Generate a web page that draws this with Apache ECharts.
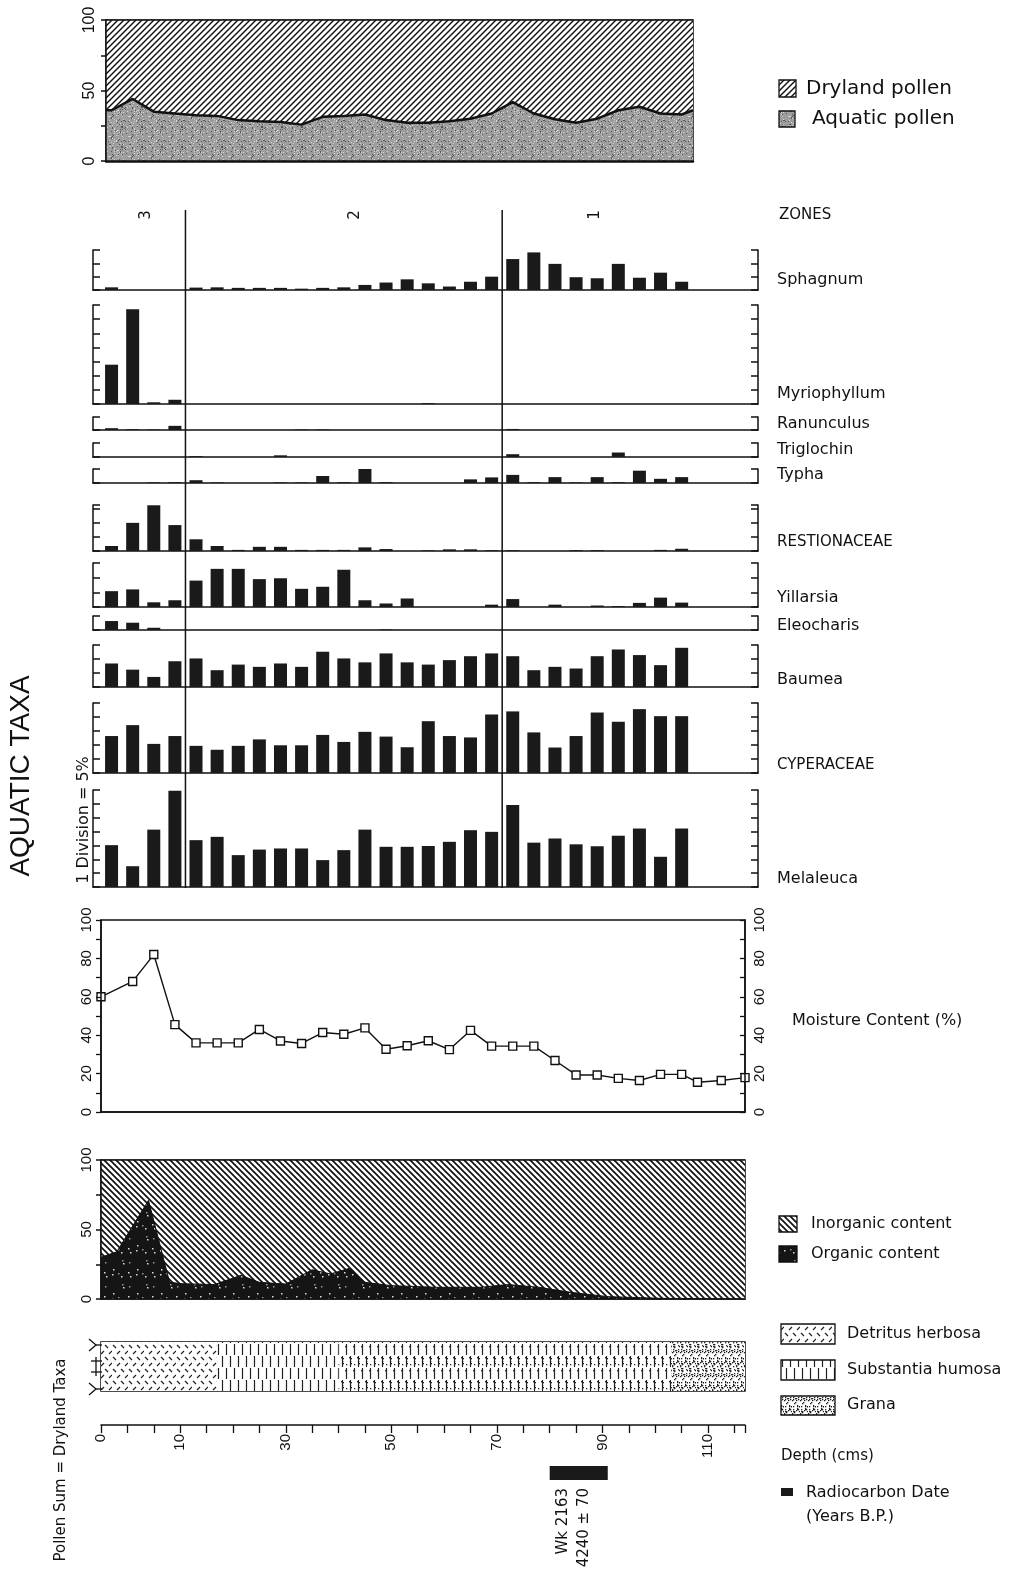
<!DOCTYPE html>
<html><head><meta charset="utf-8">
<script src="https://cdn.jsdelivr.net/npm/echarts@6/dist/echarts.min.js"></script>
<style>html,body{margin:0;padding:0;background:#fff}#c{width:1025px;height:1580px}</style>
</head><body><div id="c"></div>
<script>
// ---------------- DATA ----------------
const pollenDepths=[-3,1,5,9,13,17,21,25,29,33,37,41,45,49,53,57,61,65,69,73,77,81,85,89,93,97,101,105];
const sphagnum=[1.0,0,0,0,0.9,1.0,0.8,0.8,0.8,0.5,0.8,1.0,1.9,2.8,4.0,2.5,1.3,3.1,5.0,11.6,14.1,9.8,4.8,4.4,9.8,4.6,6.5,3.1];
const myriophyllum=[13.9,33.5,0.6,1.5,0,0,0,0,0,0,0,0,0,0,0,0.3,0,0,0,0,0,0,0,0,0,0,0,0];
const ranunculus=[0.7,0.3,0.2,1.6,0,0,0,0,0,0.2,0.2,0,0,0,0,0,0,0,0,0.4,0,0,0,0,0,0,0,0];
const triglochin=[0,0,0,0,0.3,0,0,0,0.6,0,0,0,0,0,0,0,0,0,0,1.0,0,0,0,0,1.6,0,0,0];
const typha=[0,0,0.2,0.3,1.0,0.2,0,0,0.2,0.2,2.5,0.3,5.0,0.3,0,0,0,1.3,2.0,2.9,0.3,2.1,0.2,2.1,0.3,4.4,1.5,2.1];
const restionaceae=[1.8,10.1,16.4,9.3,4.2,1.8,0.4,1.5,1.5,0.4,0.4,0.4,1.3,0.7,0,0.2,0.6,0.6,0.3,0.3,0,0,0.3,0.3,0,0,0.4,0.8];
const villarsia=[5.4,6.0,1.6,2.3,9.0,13.0,13.0,9.5,9.8,6.2,6.9,12.7,2.3,1.2,2.9,0,0,0,0.8,2.7,0,0.8,0,0.5,0.3,1.4,3.2,1.5];
const eleocharis=[3.2,2.6,0.8,0,0,0,0,0,0,0,0,0,0,0.2,0,0,0,0,0,0,0,0,0,0,0,0,0,0];
const baumea=[8.4,6.2,3.6,9.2,10.2,6.0,8.0,7.2,8.4,7.2,12.6,10.2,8.8,12.0,8.8,8.0,9.6,11.0,12.0,11.0,6.0,7.2,6.6,11.0,13.4,11.4,7.8,14.0];
const cyperaceae=[13.2,17.1,10.4,13.2,9.7,8.3,9.7,12.0,9.9,9.9,13.6,11.1,14.7,13.0,9.2,18.5,13.2,12.7,20.9,22.0,14.5,9.1,13.2,21.6,18.3,22.8,20.3,20.3];
const melaleuca=[15.1,7.5,20.7,34.7,16.9,18.1,11.5,13.5,13.9,13.9,9.7,13.3,20.7,14.5,14.5,14.8,16.3,20.5,19.9,29.6,16.0,17.5,15.4,14.7,18.5,21.1,10.9,21.1];
const taxaNames=['Sphagnum','Myriophyllum','Ranunculus','Triglochin','Typha','RESTIONACEAE','Yillarsia','Eleocharis','Baumea','CYPERACEAE','Melaleuca'];
const taxaValues=[sphagnum,myriophyllum,ranunculus,triglochin,typha,restionaceae,villarsia,eleocharis,baumea,cyperaceae,melaleuca];
const taxaMax=[15,35,5,5,5,16.5,15,5,15,25,35];

const aquaticDepths=[-4.05,-3,1,5,9,13,17,21,25,29,33,37,41,45,49,53,57,61,65,69,73,77,81,85,89,93,97,101,105,107.15];
const aquaticPct=[36,36,44,35,33.7,32.5,32,29,28.2,27.7,25.8,31.3,32,33,29,27.2,27.2,28.2,30,33.7,41.7,33.7,29.6,27.2,30,36,38.5,33.7,33,36];

const moistureDepths=[-5,1,5,9,13,17,21,25,29,33,37,41,45,49,53,57,61,65,69,73,77,81,85,89,93,97,101,105,108,112.5,117];
const moisturePct=[60,68,82,45.5,36,36,36,43,37,35.7,41.4,40.5,43.8,32.7,34.5,37.1,32.5,42.5,34.3,34.3,34.3,26.8,19.3,19.3,17.5,16.4,19.6,19.6,15.5,16.4,17.9];

const organicDepths=[-5,-2,4,8,10.5,16.5,21.5,25,30,35,38.5,42,45,50,58.5,67,72,78,84,91,101,117];
const organicPct=[30,34,71,12,11,10.4,17,12,10.8,21,18,22,12,9.6,8.4,8.4,10.4,8.4,4.8,1.7,0.5,0];

const stratStart=[-5,17,40,103];
const stratEnd=[17,40,103,117];
const stratType=['detritus','humosa','humosaGrana','grana'];

const zoneBounds=[11,71];
const zoneNames=['3','2','1'];
const dateDepthRange=[80,91];
const depthTickValues=[-5,10,30,50,70,90,110];
const depthTickLabels=['0','10','30','50','70','90','110'];

// ---------------- PATTERNS ----------------
function hsh(i,k){const x=Math.sin(i*127.1+k*311.7)*43758.5453;return x-Math.floor(x);}
function tile(w,h,bg,draw){const c=document.createElement('canvas');c.width=w;c.height=h;const g=c.getContext('2d');g.fillStyle=bg;g.fillRect(0,0,w,h);draw(g,w,h);return {image:c,repeat:'repeat'};}
function seg(g,a,b,c,d){g.beginPath();g.moveTo(a,b);g.lineTo(c,d);g.stroke();}
const patFwd=tile(6,6,'#fff',g=>{g.strokeStyle='#111';g.lineWidth=1.4;seg(g,0,6,6,0);seg(g,-3,3,3,-3);seg(g,3,9,9,3);});
const patBack=tile(6,6,'#fff',g=>{g.strokeStyle='#111';g.lineWidth=1.7;seg(g,0,0,6,6);seg(g,-3,3,3,9);seg(g,3,-3,9,3);});
const patStipple=tile(20,20,'#9d9d9d',g=>{for(let i=0;i<80;i++){const x=Math.floor(hsh(i,1)*20),y=Math.floor(hsh(i,2)*20);g.fillStyle=hsh(i,3)<0.55?'#555':'#d2d2d2';g.fillRect(x,y,1,1);}});
const patOrganic=tile(24,24,'#151515',g=>{for(let i=0;i<9;i++){const x=Math.floor(hsh(i,4)*24),y=Math.floor(hsh(i,5)*24);g.fillStyle=hsh(i,6)<0.5?'#999':'#ddd';g.fillRect(x,y,1.5,1.5);}});
const patDetritus=tile(16,12,'#fff',g=>{g.strokeStyle='#222';g.lineWidth=1.2;seg(g,1,1,4,4);seg(g,9,1,12,4);seg(g,5,10,8,7);seg(g,13,10,16,7);});
function drawHumosa(g){g.strokeStyle='#222';g.lineWidth=1.2;seg(g,2.5,0,2.5,11);seg(g,6.5,12,6.5,23);}
function drawGrana(g,n){for(let i=0;i<n;i++){const x=Math.floor(hsh(i,7)*8),y=Math.floor(hsh(i,8)*24);g.fillStyle='#222';g.fillRect(x,y,1.3,1.3);}}
const patHumosa=tile(8,24,'#fff',g=>drawHumosa(g));
const patHumosaGrana=tile(8,24,'#fff',g=>{drawHumosa(g);drawGrana(g,6);});
const patGrana=tile(8,24,'#fff',g=>{drawGrana(g,34);});
const stratPatterns={detritus:patDetritus,humosa:patHumosa,humosaGrana:patHumosaGrana,grana:patGrana};

// ---------------- LAYOUT ----------------
const CM=644/122; // px per cm on depth panels (left 101, -5..117)
const dAt=px=>-5+(px-101)/CM;
const INK='#111';
const grids=[],xAxes=[],yAxes=[],series=[];
const aLine={show:true,onZero:false,lineStyle:{color:INK,width:1.5}};
const numFont={fontSize:15,fontFamily:'Liberation Sans',color:INK};

function hiddenX(gi,min,max,extra){xAxes.push(Object.assign({gridIndex:gi,type:'value',min,max,axisLine:{show:false,onZero:false},axisTick:{show:false},axisLabel:{show:false},splitLine:{show:false}},extra||{}));return xAxes.length-1;}
function hiddenY(gi){yAxes.push({gridIndex:gi,type:'value',min:0,max:1,show:false,axisLine:{onZero:false},splitLine:{show:false}});return yAxes.length-1;}
const xLine=w=>({show:true,onZero:false,lineStyle:{color:INK,width:w}});

// top pollen panel
grids.push({left:106,top:20,width:587,height:141,show:true,borderColor:INK,borderWidth:1.5,backgroundColor:'transparent'});
let gi=0;
let xi=hiddenX(gi,aquaticDepths[0],aquaticDepths[aquaticDepths.length-1],{axisLine:xLine(2.5),z:5});
yAxes.push({gridIndex:gi,type:'value',min:0,max:100,interval:25,z:5,axisLine:aLine,axisTick:{show:true,length:5,lineStyle:{color:INK,width:1.5}},
  axisLabel:{rotate:90,margin:8,fontSize:16,fontFamily:'Liberation Sans',color:INK,formatter:v=>v%50===0?String(v):''},splitLine:{show:false}});
let yi=yAxes.length-1;
series.push({name:'Dryland pollen',type:'line',xAxisIndex:xi,yAxisIndex:yi,data:aquaticDepths.map(d=>[d,100]),symbol:'none',lineStyle:{color:INK,width:1.5},areaStyle:{color:patFwd,opacity:1},z:2,silent:true});
series.push({name:'Aquatic pollen',type:'line',xAxisIndex:xi,yAxisIndex:yi,data:aquaticDepths.map((d,i)=>[d,aquaticPct[i]]),symbol:'none',lineStyle:{color:INK,width:2.5},areaStyle:{color:patStipple,opacity:1},z:3,silent:true});

// taxa panels
const taxaLayout=[[250,40],[305,99],[417,13],[443,14],[469,14],[505,46],[563,44],[616,14],[645,42],[703,70],[790,97]];
const taxaLabelY=[280,394,424,450,475,542,598,626,680,765,879];
const tMin=dAt(93),tMax=dAt(758);
taxaNames.forEach((nm,k)=>{
  grids.push({left:93,top:taxaLayout[k][0],width:665,height:taxaLayout[k][1]});
  const g=grids.length-1;
  xAxes.push({gridIndex:g,type:'value',min:tMin,max:tMax,axisLine:xLine(1.5),axisTick:{show:false},axisLabel:{show:false},splitLine:{show:false}});
  const x=xAxes.length-1;
  const yAx={gridIndex:g,type:'value',min:0,max:taxaMax[k],interval:5,axisLine:aLine,axisTick:{show:true,inside:true,length:7,lineStyle:{color:INK,width:1.5}},axisLabel:{show:false},splitLine:{show:false},z:5};
  yAxes.push(Object.assign({},yAx,{position:'left'}));
  const y=yAxes.length-1;
  yAxes.push(Object.assign({},yAx,{position:'right'}));
  series.push({name:nm,type:'bar',xAxisIndex:x,yAxisIndex:y,barWidth:13,data:pollenDepths.map((d,i)=>[d,taxaValues[k][i]]),itemStyle:{color:'#1a1a1a'},silent:true});
});

// zone lines overlay
grids.push({left:93,top:210,width:665,height:678});
gi=grids.length-1;
xi=hiddenX(gi,tMin,tMax);yi=hiddenY(gi);
series.push({type:'custom',xAxisIndex:xi,yAxisIndex:yi,data:zoneBounds.map(v=>[v,0.5]),encode:{x:0,y:1},silent:true,z:6,
  renderItem:(p,api)=>{const a=api.coord([api.value(0),1]),b=api.coord([api.value(0),0]);return {type:'line',shape:{x1:a[0],y1:a[1],x2:b[0],y2:b[1]},style:{stroke:INK,lineWidth:1.5}};}});

// moisture panel
grids.push({left:101,top:920,width:644,height:192,show:true,borderColor:INK,borderWidth:1.5,backgroundColor:'transparent'});
gi=grids.length-1;
xi=hiddenX(gi,-5,117,{axisLine:xLine(1.5)});
const mY={gridIndex:gi,type:'value',min:0,max:100,interval:10,axisLine:aLine,splitLine:{show:false},z:5,
  axisLabel:Object.assign({rotate:90,margin:7,formatter:v=>v%20===0?String(v):''},numFont)};
yAxes.push(Object.assign({},mY,{position:'left',axisTick:{show:true,length:5,lineStyle:{color:INK,width:1.3}}}));
yi=yAxes.length-1;
yAxes.push(Object.assign({},mY,{position:'right',axisTick:{show:true,inside:true,length:5,lineStyle:{color:INK,width:1.3}}}));
series.push({name:'Moisture Content (%)',type:'line',xAxisIndex:xi,yAxisIndex:yi,clip:false,data:moistureDepths.map((d,i)=>[d,moisturePct[i]]),
  symbol:'rect',symbolSize:8,itemStyle:{color:'#fff',borderColor:INK,borderWidth:1.4},lineStyle:{color:INK,width:1.4},silent:true,z:4});

// organic / inorganic panel
grids.push({left:101,top:1160,width:644,height:139,show:true,borderColor:INK,borderWidth:1.5,backgroundColor:'transparent'});
gi=grids.length-1;
xi=hiddenX(gi,-5,117,{axisLine:xLine(1.5),z:5});
yAxes.push({gridIndex:gi,type:'value',min:0,max:100,interval:25,z:5,axisLine:aLine,axisTick:{show:true,length:5,lineStyle:{color:INK,width:1.5}},
  axisLabel:Object.assign({rotate:90,margin:7,formatter:v=>v%50===0?String(v):''},numFont),splitLine:{show:false}});
yi=yAxes.length-1;
series.push({name:'Inorganic content',type:'line',xAxisIndex:xi,yAxisIndex:yi,data:organicDepths.map(d=>[d,100]),symbol:'none',lineStyle:{color:INK,width:1.5},areaStyle:{color:patBack,opacity:1},z:2,silent:true});
series.push({name:'Organic content',type:'line',xAxisIndex:xi,yAxisIndex:yi,data:organicDepths.map((d,i)=>[d,organicPct[i]]),symbol:'none',lineStyle:{color:INK,width:1},areaStyle:{color:patOrganic,opacity:1},z:3,silent:true});

// stratigraphy column
grids.push({left:101,top:1342,width:644,height:49,show:true,borderColor:INK,borderWidth:1.5,backgroundColor:'transparent'});
gi=grids.length-1;
xi=hiddenX(gi,-5,117);yi=hiddenY(gi);
series.push({type:'custom',xAxisIndex:xi,yAxisIndex:yi,silent:true,z:2,data:stratStart.map((s,i)=>[s,stratEnd[i],0.5,i]),encode:{x:[0,1],y:2},
  renderItem:(p,api)=>{const a=api.coord([api.value(0),1]),b=api.coord([api.value(1),0]);return {type:'rect',shape:{x:a[0],y:a[1],width:b[0]-a[0],height:b[1]-a[1]},style:{fill:stratPatterns[stratType[api.value(3)]]}};}});

// depth axis
grids.push({left:101,top:1400,width:644,height:25});
gi=grids.length-1;
xAxes.push({gridIndex:gi,type:'value',min:-5,max:117,interval:5,position:'bottom',axisLine:xLine(1.5),
  axisTick:{show:true,length:8,lineStyle:{color:INK,width:1.3}},splitLine:{show:false},
  axisLabel:Object.assign({rotate:90,margin:9,formatter:v=>{const k=depthTickValues.indexOf(v);return k>=0?depthTickLabels[k]:'';}},numFont)});
xi=xAxes.length-1;yi=hiddenY(gi);
series.push({type:'line',xAxisIndex:xi,yAxisIndex:yi,data:[],silent:true});

// radiocarbon date bar
grids.push({left:101,top:1466,width:644,height:14});
gi=grids.length-1;
xi=hiddenX(gi,-5,117);yi=hiddenY(gi);
series.push({type:'custom',xAxisIndex:xi,yAxisIndex:yi,silent:true,data:[[dateDepthRange[0],dateDepthRange[1],0.5]],encode:{x:[0,1],y:2},
  renderItem:(p,api)=>{const a=api.coord([api.value(0),1]),b=api.coord([api.value(1),0]);return {type:'rect',shape:{x:a[0],y:a[1],width:b[0]-a[0],height:b[1]-a[1]},style:{fill:'#1a1a1a'}};}});

// ---------------- TEXT & LEGENDS ----------------
const R=Math.PI/2;
function T(x,y,text,size,o){o=o||{};const al=o.align||'left',va=o.valign||'middle';
  return {type:'text',x,y,rotation:o.rot||0,z:100,silent:true,style:{text,fill:'#111',font:(o.weight||'normal')+' '+size+'px '+(o.family||"'DejaVu Sans'"),textAlign:al,textVerticalAlign:va,align:al,verticalAlign:va}};}
function B(x,y,w,h,fill){return {type:'rect',z:100,silent:true,shape:{x,y,width:w,height:h},style:{fill,stroke:'#111',lineWidth:1.3}};}
function L(x1,y1,x2,y2){return {type:'line',z:100,silent:true,shape:{x1,y1,x2,y2},style:{stroke:'#111',lineWidth:1.3}};}
const zoneLabelX=[146,355,595];
const gfx=[];
zoneNames.forEach((z,i)=>gfx.push(T(zoneLabelX[i],215,z,15,{rot:R,align:'center'})));
gfx.push(T(779,215,'ZONES',15));
taxaNames.forEach((n,i)=>gfx.push(T(777,taxaLabelY[i],n,n===n.toUpperCase()?15:16)));
gfx.push(B(779,80,17,17,patFwd),T(806,89,'Dryland pollen',20));
gfx.push(B(779,111,16,16,patStipple),T(812,119,'Aquatic pollen',20));
gfx.push(T(792,1021,'Moisture Content (%)',16));
gfx.push(B(779,1216,18,16,patBack),T(811,1224,'Inorganic content',16));
gfx.push(B(779,1246,18,16,patOrganic),T(811,1254,'Organic content',16));
gfx.push(B(781,1324,54,20,patDetritus),T(847,1334,'Detritus herbosa',16));
gfx.push(B(781,1360,54,20,patHumosa),T(847,1370,'Substantia humosa',16));
gfx.push(B(781,1396,54,19,patGrana),T(847,1405,'Grana',16));
gfx.push(T(781,1456,'Depth (cms)',15));
gfx.push({type:'rect',z:100,silent:true,shape:{x:781,y:1488,width:12,height:8},style:{fill:'#1a1a1a'}});
gfx.push(T(806,1493,'Radiocarbon Date',16),T(806,1517,'(Years B.P.)',16));
gfx.push(T(21,776,'AQUATIC TAXA',28,{rot:R,align:'center',family:"'Liberation Sans'"}));
gfx.push(T(84,820,'1 Division = 5%',16,{rot:R,align:'center'}));
gfx.push(T(61,1460,'Pollen Sum = Dryland Taxa',15,{rot:R,align:'center'}));
gfx.push(T(563,1488,'Wk 2163',15,{rot:R,align:'right'}));
gfx.push(T(584,1488,'4240 ± 70',15,{rot:R,align:'right'}));
// stratigraphy boundary symbols
gfx.push({type:'polyline',z:100,silent:true,shape:{points:[[89,1339],[96,1345],[89,1351]]},style:{stroke:'#111',lineWidth:1.3,fill:null}},L(96,1345,102,1345));
gfx.push(L(91,1361,102,1361),L(91,1372,102,1372),L(96,1357,96,1376));
gfx.push({type:'polyline',z:100,silent:true,shape:{points:[[89,1383],[96,1389],[89,1395]]},style:{stroke:'#111',lineWidth:1.3,fill:null}},L(96,1389,102,1389));

const chart=echarts.init(document.getElementById('c'),null,{renderer:'canvas',width:1025,height:1580});
chart.setOption({animation:false,backgroundColor:'#fff',grid:grids,xAxis:xAxes,yAxis:yAxes,series,graphic:{elements:gfx}});
</script></body></html>
